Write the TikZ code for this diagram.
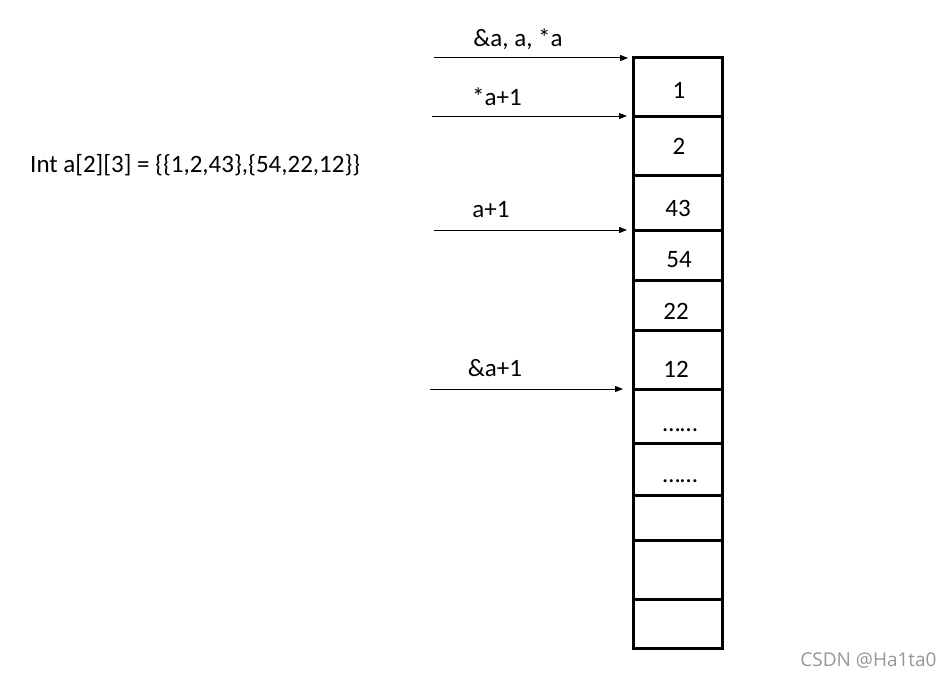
\documentclass[tikz,border=0pt]{standalone}
\usepackage{fontspec}
\setmainfont{Carlito}
\newfontfamily\wmfont{Open Sans}
\usepackage{xcolor}
\usepackage{tikz}
\usetikzlibrary{arrows.meta, positioning}
\definecolor{wmgray}{RGB}{150,150,150}

\begin{document}
\begin{tikzpicture}[
    x=1pt, y=-1pt,
    >={Triangle[length=8pt, width=6pt]},
    cell/.style={draw, line width=3pt, minimum width=89pt, inner sep=0pt, outer sep=0pt},
    val/.style={font=\fontsize{25}{30}\selectfont, inner sep=0pt},
    ptr/.style={->, line width=1pt},
    ptrlabel/.style={font=\fontsize{25}{30}\selectfont, inner sep=0pt},
]
    \useasboundingbox (0,0) rectangle (952,677);

    % declaration
    \node[val, anchor=west] (decl) at (30,165) {Int a[2][3] = \{\{1,2,43\},\{54,22,12\}\}};

    % memory cells
    \node[cell, minimum height=58pt] (c1) at (677.5,87) {};
    \node[cell, minimum height=59pt] (c2) at (677.5,145.5) {};
    \node[cell, minimum height=55pt] (c3) at (677.5,202.5) {};
    \node[cell, minimum height=50pt] (c4) at (677.5,255) {};
    \node[cell, minimum height=50pt] (c5) at (677.5,305) {};
    \node[cell, minimum height=59pt] (c6) at (677.5,359.5) {};
    \node[cell, minimum height=54pt] (c7) at (677.5,416) {};
    \node[cell, minimum height=52pt] (c8) at (677.5,469) {};
    \node[cell, minimum height=45pt] (c9) at (677.5,517.5) {};
    \node[cell, minimum height=59pt] (c10) at (677.5,569.5) {};
    \node[cell, minimum height=49pt] (c11) at (677.5,623.5) {};

    % values
    \node[val] (v1) at (679,90) {1};
    \node[val] (v2) at (679,146) {2};
    \node[val] (v3) at (678,208) {43};
    \node[val] (v4) at (679,260) {54};
    \node[val] (v5) at (676,311) {22};
    \node[val] (v6) at (676,369) {12};
    \node[val] (v7) at (680,430) {……};
    \node[val] (v8) at (680,481) {……};

    % pointers
    \coordinate (s1) at (434,58);
    \coordinate (s2) at (432,116);
    \coordinate (s3) at (434,230);
    \coordinate (s4) at (430,389);
    \draw[ptr] (s1) -- ([xshift=-5pt]c1.north west);
    \draw[ptr] (s2) -- ([xshift=-6pt]c2.north west);
    \draw[ptr] (s3) -- ([xshift=-6pt]c4.north west);
    \draw[ptr] (s4) -- ([xshift=-10pt]c7.north west);

    \node[ptrlabel] (l1) at (518,39) {\&a, a, *a};
    \node[ptrlabel] (l2) at (497,97) {*a+1};
    \node[ptrlabel] (l3) at (491,210) {a+1};
    \node[ptrlabel] (l4) at (495,368) {\&a+1};

    % watermark
    \node[font=\wmfont\fontsize{19}{22}\selectfont, text=wmgray, inner sep=0pt] (wm) at (868.5,660) {CSDN @Ha1ta0};
\end{tikzpicture}
\end{document}
